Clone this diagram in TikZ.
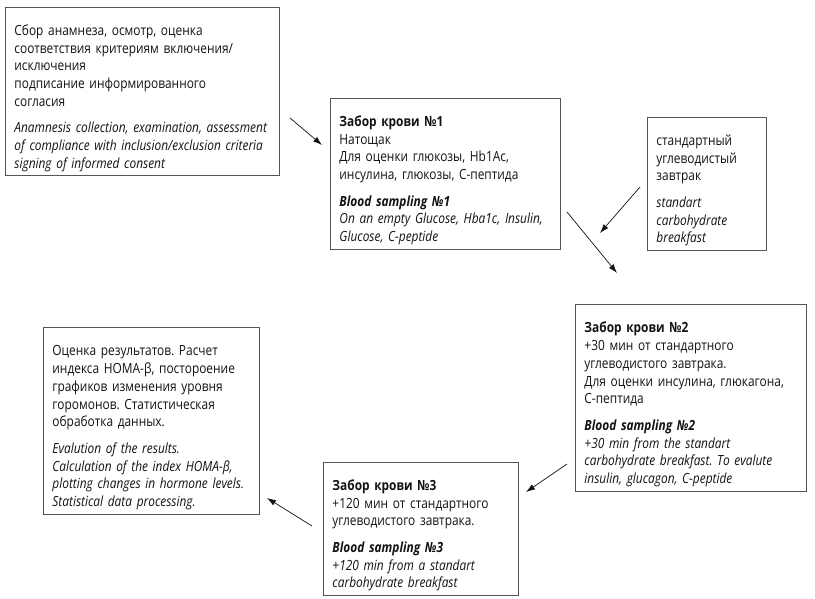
\documentclass[tikz,border=0pt]{standalone}
\usepackage{fontspec}
\setmainfont{Open Sans}[FakeStretch=0.85]
\frenchspacing
\usetikzlibrary{arrows.meta}
\usetikzlibrary{positioning}
\definecolor{boxline}{HTML}{555555}
\definecolor{txt}{HTML}{141213}

\begin{document}
\begin{tikzpicture}[x=1pt,y=-1pt,
  stage/.style={draw=boxline, line width=0.9pt, anchor=north west,
    align=left, inner xsep=9pt, inner ysep=4pt, text=txt,
    font=\fontsize{14}{17.7}\selectfont,
    execute at begin node=\rule{0pt}{24pt}},
  flow/.style={-{Latex[length=9pt,width=6pt]}, line width=0.7pt, draw=txt}]
\useasboundingbox (0,0) rectangle (815,599);
\path
  coordinate (a0) at (290,118)
  coordinate (a1) at (322,145)
  coordinate (b0) at (567,212)
  coordinate (b1) at (617,273)
  coordinate (c0) at (640,187)
  coordinate (c1) at (600,233)
  coordinate (d0) at (567,464)
  coordinate (d1) at (526,492)
  coordinate (f0) at (312,526)
  coordinate (f1) at (267,498)
  ;
\node[stage, text width=256pt, minimum height=168pt] (anam) at (5,7)
  {Сбор анамнеза, осмотр, оценка\\
   соответствия критериям включения/\\
   исключения\\
   подписание информированного\\
   согласия\\[9pt]
   \itshape Anamnesis collection, examination, assessment\\
   of compliance with inclusion/exclusion criteria\\
   signing of informed consent};
\node[stage, text width=212pt, minimum height=150pt] (blood1) at (330,98)
  {\textbf{Забор крови №1}\\
   Натощак\\
   Для оценки глюкозы, Hb1Ac,\\
   инсулина, глюкозы, С-пептида\\[9pt]
   \itshape\textbf{Blood sampling №1}\\
   On an empty Glucose, Hba1c, Insulin,\\
   Glucose, C-peptide};
\node[stage, text width=101pt, minimum height=132pt] (meal) at (647,117)
  {стандартный\\
   углеводистый\\
   завтрак\\[9pt]
   \itshape standart\\
   carbohydrate\\
   breakfast};
\node[stage, text width=213pt, minimum height=187pt] (blood2) at (575,304)
  {\textbf{Забор крови №2}\\
   +30 мин от стандартного\\
   углеводистого завтрака.\\
   Для оценки инсулина, глюкагона,\\
   С-пептида\\[9pt]
   \itshape\textbf{Blood sampling №2}\\
   +30 min from the standart\\
   carbohydrate breakfast. To evalute\\
   insulin, glucagon, C-peptide};
\node[stage, text width=198pt, minimum height=187pt] (result) at (43,327)
  {Оценка результатов. Расчет\\
   индекса HOMA-β, постороение\\
   графиков изменения уровня\\
   горомонов. Статистическая\\
   обработка данных.\\[9pt]
   \itshape Evalution of the results.\\
   Calculation of the index HOMA-β,\\
   plotting changes in hormone levels.\\
   Statistical data processing.};
\node[stage, text width=177pt, minimum height=132pt] (blood3) at (323,462)
  {\textbf{Забор крови №3}\\
   +120 мин от стандартного\\
   углеводистого завтрака.\\[9pt]
   \itshape\textbf{Blood sampling №3}\\
   +120 min from a standart\\
   carbohydrate breakfast};
\draw[flow] (a0) -- (a1);
\draw[flow] (b0) -- (b1);
\draw[flow] (c0) -- (c1);
\draw[flow] (d0) -- (d1);
\draw[flow] (f0) -- (f1);
\end{tikzpicture}
\end{document}
